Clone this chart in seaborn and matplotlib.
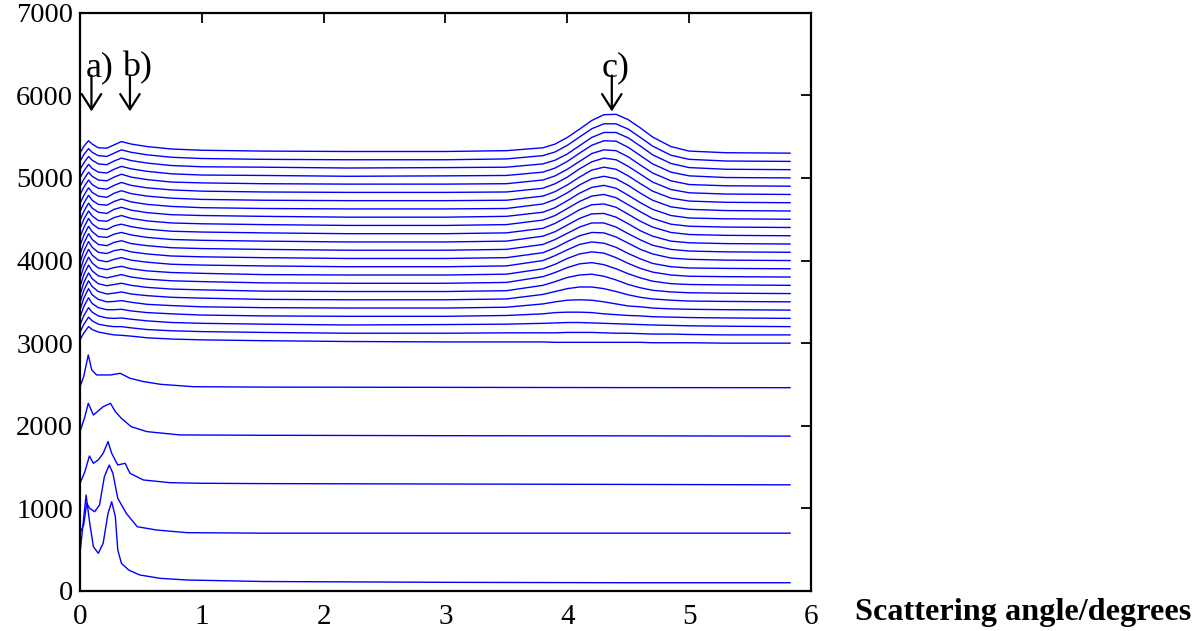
import matplotlib
matplotlib.use("Agg")
import matplotlib.pyplot as plt
import seaborn as sns
import pandas as pd

# ---------------------------------------------------------------------------
# Lower traces: individual angle / intensity lists (already vertically offset)
# ---------------------------------------------------------------------------
LOW1_X = [0.0, 0.05, 0.08, 0.11, 0.15, 0.19, 0.23, 0.26, 0.29, 0.31, 0.34, 0.40, 0.49, 0.66, 0.88, 1.5, 3.0, 4.5, 5.83]
LOW1_Y = [456, 1162, 820, 536, 456, 577, 940, 1081, 900, 496, 335, 254, 194, 153, 133, 115, 105, 100, 100]

LOW2_X = [0.0, 0.03, 0.055, 0.08, 0.12, 0.16, 0.20, 0.24, 0.27, 0.31, 0.38, 0.47, 0.63, 0.88, 1.5, 3.0, 4.5, 5.83]
LOW2_Y = [698, 800, 1062, 1000, 960, 1040, 1384, 1525, 1425, 1122, 940, 778, 738, 706, 700, 700, 700, 700]

LOW3_X = [0.0, 0.04, 0.077, 0.11, 0.15, 0.19, 0.23, 0.26, 0.31, 0.37, 0.41, 0.52, 0.74, 1.0, 1.5, 3.0, 4.5, 5.83]
LOW3_Y = [1304, 1444, 1634, 1546, 1586, 1667, 1808, 1667, 1525, 1546, 1425, 1344, 1311, 1304, 1300, 1295, 1290, 1285]

LOW4_X = [0.0, 0.04, 0.068, 0.11, 0.19, 0.25, 0.29, 0.34, 0.42, 0.55, 0.82, 1.5, 3.0, 4.5, 5.83]
LOW4_Y = [1929, 2110, 2272, 2130, 2231, 2272, 2171, 2090, 1989, 1929, 1889, 1885, 1880, 1878, 1875]

LOW5_X = [0.0, 0.03, 0.068, 0.096, 0.137, 0.25, 0.33, 0.41, 0.52, 0.66, 0.93, 1.5, 3.0, 4.5, 5.83]
LOW5_Y = [2473, 2594, 2857, 2676, 2615, 2615, 2635, 2575, 2535, 2502, 2473, 2468, 2465, 2462, 2461]

LOWER_TRACES = [(LOW1_X, LOW1_Y), (LOW2_X, LOW2_Y), (LOW3_X, LOW3_Y),
                (LOW4_X, LOW4_Y), (LOW5_X, LOW5_Y)]

# ---------------------------------------------------------------------------
# Upper stack: common angle grid, per-trace offset and intensity above offset
# ---------------------------------------------------------------------------
UP_ANGLE = [0.0, 0.03, 0.07, 0.10, 0.15, 0.22, 0.28, 0.34, 0.42, 0.55, 0.75, 1.0, 1.5, 2.2, 3.0,
            3.5, 3.8, 3.9, 4.0, 4.1, 4.2, 4.3, 4.4, 4.5, 4.6, 4.7, 4.85, 5.0, 5.3, 5.83]

UP_OFFSET = [3000, 3100, 3200, 3300, 3400, 3500, 3600, 3700, 3800, 3900, 4000, 4100,
             4200, 4300, 4400, 4500, 4600, 4700, 4800, 4900, 5000, 5100, 5200, 5300]

UP_EXCESS = [
    [40, 120, 200, 165, 135, 115, 100, 95, 85, 65, 50, 40, 30, 20, 15,
     15, 15, 10, 10, 10, 10, 10, 10, 10, 10, 5, 5, 5, 0, 0],
    [30, 125, 215, 170, 130, 110, 100, 100, 85, 65, 50, 40, 30, 20, 20,
     25, 25, 25, 30, 30, 30, 25, 20, 20, 15, 10, 10, 5, 0, 0],
    [20, 130, 230, 175, 130, 105, 100, 105, 90, 70, 50, 40, 30, 20, 25,
     30, 40, 45, 50, 50, 45, 40, 35, 30, 25, 20, 15, 10, 5, 0],
    [10, 140, 250, 180, 130, 105, 105, 110, 90, 70, 55, 40, 30, 25, 25,
     35, 55, 70, 75, 75, 70, 55, 45, 35, 30, 20, 15, 10, 5, 0],
    [0, 140, 260, 185, 130, 100, 105, 115, 95, 70, 55, 40, 30, 25, 25,
     35, 75, 100, 120, 125, 120, 100, 75, 50, 40, 25, 15, 10, 5, 0],
    [-10, 135, 255, 185, 125, 95, 105, 120, 95, 75, 55, 45, 30, 25, 25,
     35, 90, 125, 160, 180, 180, 160, 125, 85, 55, 35, 20, 10, 5, 0],
    [-20, 130, 250, 180, 120, 95, 110, 125, 100, 75, 55, 45, 30, 25, 25,
     35, 100, 145, 195, 225, 235, 210, 165, 110, 70, 40, 20, 10, 5, 0],
    [-20, 125, 245, 175, 115, 90, 110, 130, 100, 75, 55, 45, 30, 25, 25,
     35, 105, 155, 215, 260, 275, 250, 200, 140, 90, 50, 20, 10, 5, 0],
    [-20, 120, 240, 170, 110, 90, 115, 130, 100, 75, 55, 45, 30, 25, 25,
     35, 100, 155, 225, 280, 305, 290, 235, 165, 105, 60, 25, 10, 5, 0],
    [-25, 115, 235, 165, 105, 85, 115, 135, 105, 80, 55, 45, 35, 25, 25,
     35, 100, 160, 230, 295, 325, 310, 260, 185, 120, 65, 25, 10, 5, 0],
    [-25, 110, 230, 160, 100, 85, 120, 135, 105, 80, 55, 45, 35, 25, 25,
     35, 95, 155, 230, 300, 340, 335, 285, 210, 135, 80, 30, 15, 5, 0],
    [-25, 105, 225, 155, 95, 80, 120, 140, 105, 80, 55, 45, 35, 25, 25,
     35, 95, 155, 230, 305, 355, 355, 305, 225, 150, 85, 35, 15, 5, 0],
    [-20, 100, 215, 150, 90, 80, 120, 140, 110, 80, 55, 45, 35, 25, 25,
     35, 95, 150, 230, 310, 365, 370, 325, 245, 160, 95, 35, 15, 5, 0],
    [-20, 95, 210, 145, 90, 75, 120, 140, 110, 80, 55, 45, 35, 25, 25,
     35, 90, 150, 230, 315, 375, 385, 345, 260, 175, 105, 40, 15, 5, 0],
    [-15, 95, 200, 140, 85, 75, 120, 145, 110, 80, 55, 45, 35, 25, 25,
     35, 90, 145, 230, 315, 380, 400, 360, 275, 190, 110, 40, 15, 5, 0],
    [-15, 90, 195, 135, 85, 70, 120, 145, 110, 80, 55, 45, 35, 25, 25,
     35, 85, 140, 225, 315, 385, 410, 375, 290, 200, 120, 45, 15, 5, 0],
    [-10, 90, 190, 130, 80, 70, 115, 145, 110, 80, 55, 40, 30, 25, 25,
     30, 85, 140, 220, 315, 390, 420, 390, 310, 215, 130, 50, 20, 5, 0],
    [-10, 85, 180, 125, 80, 65, 115, 145, 110, 80, 55, 40, 30, 25, 25,
     30, 80, 135, 215, 310, 395, 430, 405, 325, 230, 140, 55, 20, 5, 0],
    [-5, 85, 175, 120, 75, 65, 110, 145, 110, 80, 55, 40, 30, 25, 25,
     30, 75, 130, 210, 310, 395, 440, 420, 340, 245, 150, 60, 20, 5, 0],
    [-5, 80, 170, 120, 75, 65, 110, 145, 110, 80, 50, 40, 30, 25, 25,
     30, 75, 125, 205, 300, 395, 440, 430, 355, 255, 160, 65, 20, 5, 0],
    [0, 80, 165, 115, 70, 60, 105, 140, 110, 80, 50, 35, 30, 20, 25,
     30, 70, 120, 200, 300, 395, 450, 445, 370, 270, 170, 70, 25, 5, 0],
    [0, 80, 160, 115, 70, 60, 105, 140, 110, 80, 50, 35, 30, 20, 25,
     30, 70, 115, 190, 290, 390, 450, 450, 385, 285, 180, 75, 25, 5, 0],
    [0, 80, 155, 110, 70, 60, 100, 140, 110, 80, 50, 35, 25, 20, 20,
     30, 70, 115, 195, 295, 395, 455, 455, 390, 290, 185, 75, 25, 5, 0],
    [0, 80, 150, 110, 65, 60, 100, 140, 110, 80, 50, 35, 25, 20, 20,
     30, 65, 110, 190, 290, 395, 465, 470, 405, 305, 195, 80, 25, 5, 0],
]

# Peak markers: label, label anchor, arrow x, arrow tail / head heights
MARK_LABELS = ["a)", "b)", "c)"]
MARK_TEXT_X = [0.05, 0.345, 4.285]
MARK_TEXT_Y = 6330
MARK_ARROW_X = [0.094, 0.41, 4.365]
ARROW_TAIL_Y = 6240
ARROW_HEAD_Y = 5805

X_TICKS = [0, 1, 2, 3, 4, 5, 6]
Y_TICKS = [0, 1000, 2000, 3000, 4000, 5000, 6000, 7000]
X_LABEL = "Scattering angle/degrees"

# ---------------------------------------------------------------------------
rows = []
for k, (xs, ys) in enumerate(LOWER_TRACES):
    for x, y in zip(xs, ys):
        rows.append({"trace": f"L{k}", "angle": x, "intensity": y})
for k, (off, exc) in enumerate(zip(UP_OFFSET, UP_EXCESS)):
    for x, e in zip(UP_ANGLE, exc):
        rows.append({"trace": f"U{k}", "angle": x, "intensity": off + e})
df = pd.DataFrame(rows)

sns.set_theme(style="white")
plt.rcParams["font.family"] = ["Liberation Serif", "DejaVu Serif"]

W, H = 1196, 631
fig = plt.figure(figsize=(W / 100, H / 100), dpi=100)
ax = fig.add_axes([80 / W, 40 / H, 731 / W, 578.3 / H])

sns.lineplot(data=df, x="angle", y="intensity", units="trace", estimator=None,
             color="#0000ff", linewidth=1.0, sort=False, legend=False, ax=ax)

ax.set_xlim(0, 6)
ax.set_ylim(0, 7000)
ax.set_xticks(X_TICKS)
ax.set_yticks(Y_TICKS)
ax.set_xticklabels([str(t) for t in X_TICKS])
ax.set_yticklabels([str(t) for t in Y_TICKS])
ax.set_xlabel("")
ax.set_ylabel("")

for side in ["left", "right", "top", "bottom"]:
    ax.spines[side].set_visible(True)
    ax.spines[side].set_color("black")
    ax.spines[side].set_linewidth(1.6)

ax.tick_params(axis="both", direction="in", length=7, width=1.3, colors="black",
               top=True, right=True)
ax.tick_params(axis="x", labelsize=21, pad=9)
ax.tick_params(axis="y", labelsize=20.5, pad=5)

for lab, tx, axx in zip(MARK_LABELS, MARK_TEXT_X, MARK_ARROW_X):
    ax.text(tx, MARK_TEXT_Y, lab, fontsize=26, ha="left", va="center", color="black")
    ax.annotate("", xy=(axx, ARROW_HEAD_Y), xytext=(axx, ARROW_TAIL_Y),
                arrowprops=dict(arrowstyle="->,head_length=0.55,head_width=0.35",
                                lw=1.6, color="black", mutation_scale=20,
                                shrinkA=0, shrinkB=0))

fig.text(855 / W, 11 / H, X_LABEL, fontsize=23.2, fontweight="bold",
         ha="left", va="baseline", color="black")

fig.savefig("out.png", dpi=100)
